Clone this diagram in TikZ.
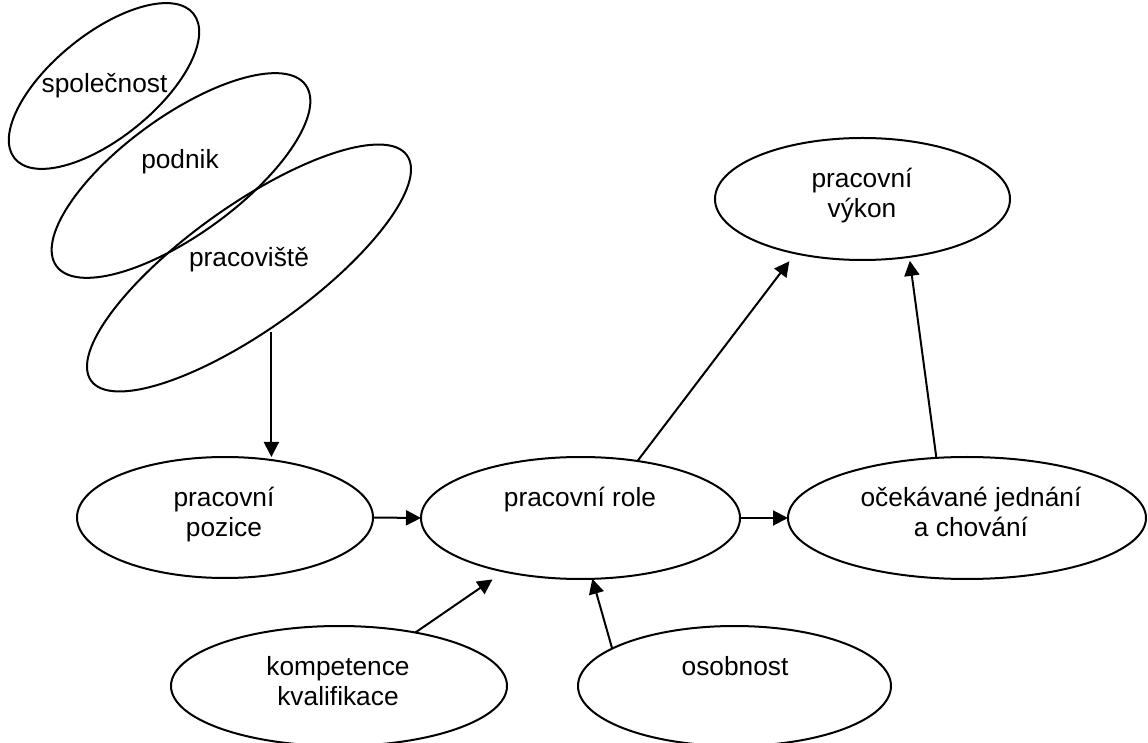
\documentclass[tikz,border=0pt]{standalone}
\usepackage{fontspec}
\setmainfont{Liberation Sans}
\usetikzlibrary{arrows.meta,shapes.geometric}
\tikzset{
  oval/.style={draw, ellipse, line width=2pt, inner sep=0pt, outer sep=0pt},
  lbl/.style={inner sep=0pt, anchor=base, font=\fontsize{26.3}{30}\selectfont},
  arr/.style={line width=2pt, -{Triangle[length=15pt,width=15pt]}}
}
\newcommand{\twoline}[2]{\begin{tabular}[t]{@{}c@{}}#1\\#2\end{tabular}}
\begin{document}
\begin{tikzpicture}[x=1pt,y=1pt]
\useasboundingbox (0,0) rectangle (1148,742);
% tilted ellipses
\node[oval, rotate=39, minimum width=230pt, minimum height=104pt] (spol) at (104,656) {};
\node[oval, rotate=36, minimum width=308pt, minimum height=118pt] (podnik) at (181,566.5) {};
\node[oval, rotate=35.5, minimum width=388pt, minimum height=124pt] (pracov) at (249,474) {};
\node[lbl] (tspol) at (104.5,649) {společnost};
\node[lbl] (tpodnik) at (180,573) {podnik};
\node[lbl] (tpracov) at (249,475) {pracoviště};
% ellipses
\node[oval, minimum width=296pt, minimum height=121pt] (pozice) at (225,224.5) {};
\node[oval, minimum width=319pt, minimum height=122pt] (role) at (580.5,224) {};
\node[oval, minimum width=358pt, minimum height=122pt] (ocek) at (967,224) {};
\node[oval, minimum width=295pt, minimum height=122pt] (vykon) at (862.5,543) {};
\node[oval, minimum width=336pt, minimum height=120pt] (komp) at (339,56) {};
\node[oval, minimum width=313pt, minimum height=120pt] (osob) at (734.5,56) {};
% texts
\node[lbl] (tpozice) at (224,235) {\twoline{pracovní}{pozice}};
\node[lbl] (trole) at (580,235) {pracovní role};
\node[lbl] (tocek) at (971,235) {\twoline{očekávané jednání}{a chování}};
\node[lbl] (tvykon) at (862,554) {\twoline{pracovní}{výkon}};
\node[lbl] (tkomp) at (338,67) {\twoline{kompetence}{kvalifikace}};
\node[lbl] (tosob) at (735,67) {osobnost};
% connectors
\draw[arr, shorten <=4pt] (pracov.255) -- (pracov.255 |- pozice.north);
\draw[arr] (pozice.east) -- (role.west);
\draw[arr] (role.east) -- (ocek.west);
\draw[arr, shorten >=10pt] (role.45) -- (vykon.219);
\draw[arr, shorten >=4pt] (ocek.117) -- (vykon.309);
\draw[arr, shorten >=14pt] (komp.35) -- (role.215.5);
\draw[arr] (osob.163.5) -- (role.281);
\end{tikzpicture}
\end{document}
